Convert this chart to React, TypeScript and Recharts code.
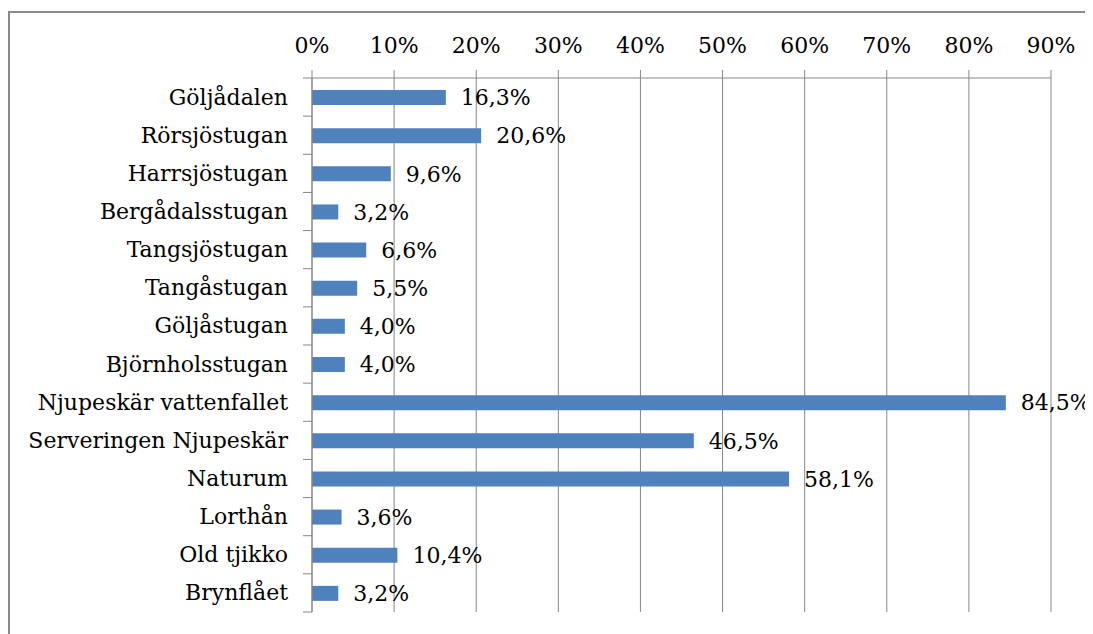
import React from "react";
import { BarChart, Bar, XAxis, YAxis, CartesianGrid, LabelList } from "recharts";

const places = [
    "Göljådalen",
    "Rörsjöstugan",
    "Harrsjöstugan",
    "Bergådalsstugan",
    "Tangsjöstugan",
    "Tangåstugan",
    "Göljåstugan",
    "Björnholsstugan",
    "Njupeskär vattenfallet",
    "Serveringen Njupeskär",
    "Naturum",
    "Lorthån",
    "Old tjikko",
    "Brynflået",
];
const shares = [16.3, 20.6, 9.6, 3.2, 6.6, 5.5, 4.0, 4.0, 84.5, 46.5, 58.1, 3.6, 10.4, 3.2];
const percentTicks = [0, 10, 20, 30, 40, 50, 60, 70, 80, 90];

const data = places.map((name, i) => ({ name, value: shares[i] }));

const FONT = "'DejaVu Serif', serif";
const FONT_SIZE = 22;
const GRID = "#878787";
const CHART_W = 1150;
const CHART_H = 620;
const TOP_AXIS_H = 65;
const BOTTOM_M = 21;
const PLOT_H = CHART_H - TOP_AXIS_H - BOTTOM_M;

// Excel style: labels right aligned, tick marks between categories
const CategoryTick = (props: any) => {
    const { x, y, payload, index } = props;
    const band = PLOT_H / places.length;
    return (
        <g>
            <text x={x - 24} y={y} textAnchor="end" dominantBaseline="central" fontFamily={FONT} fontSize={FONT_SIZE} fill="#000">
                {payload.value}
            </text>
            <line x1={x - 9} x2={x} y1={y - band / 2} y2={y - band / 2} stroke={GRID} />
            {index === places.length - 1 && <line x1={x - 9} x2={x} y1={y + band / 2} y2={y + band / 2} stroke={GRID} />}
        </g>
    );
};

const App: React.FC = () => {
    return (
        <div
            style={{
                position: "relative",
                marginTop: 3,
                width: 1200,
                height: 640,
                borderLeft: "2px solid #8a8a8a",
                borderTop: "2px solid #8a8a8a",
                background: "#fff",
            }}
        >
            <style>{`html, body { overflow: hidden; }`}</style>
            <BarChart
                width={CHART_W}
                height={CHART_H}
                data={data}
                layout="vertical"
                margin={{ top: 0, right: 109, left: 0, bottom: BOTTOM_M }}
            >
                <CartesianGrid horizontal={false} vertical stroke={GRID} />
                <XAxis
                    type="number"
                    orientation="top"
                    domain={[0, 90]}
                    ticks={percentTicks}
                    tickFormatter={(v) => `${v}%`}
                    height={TOP_AXIS_H}
                    tickSize={8}
                    tickMargin={17}
                    stroke={GRID}
                    tick={{ fill: "#000", fontFamily: FONT, fontSize: FONT_SIZE }}
                    interval={0}
                />
                <YAxis
                    type="category"
                    dataKey="name"
                    width={302}
                    tickSize={0}
                    tickMargin={0}
                    tickLine={false}
                    stroke={GRID}
                    tick={<CategoryTick />}
                    interval={0}
                />
                <Bar dataKey="value" fill="#4f81bd" barSize={15} isAnimationActive={false}>
                    <LabelList
                        dataKey="value"
                        position="right"
                        offset={15}
                        formatter={(v: any) => `${Number(v).toFixed(1).replace(".", ",")}%`}
                        style={{ fill: "#000", fontFamily: FONT, fontSize: FONT_SIZE }}
                    />
                </Bar>
            </BarChart>
        </div>
    );
};

export default App;
